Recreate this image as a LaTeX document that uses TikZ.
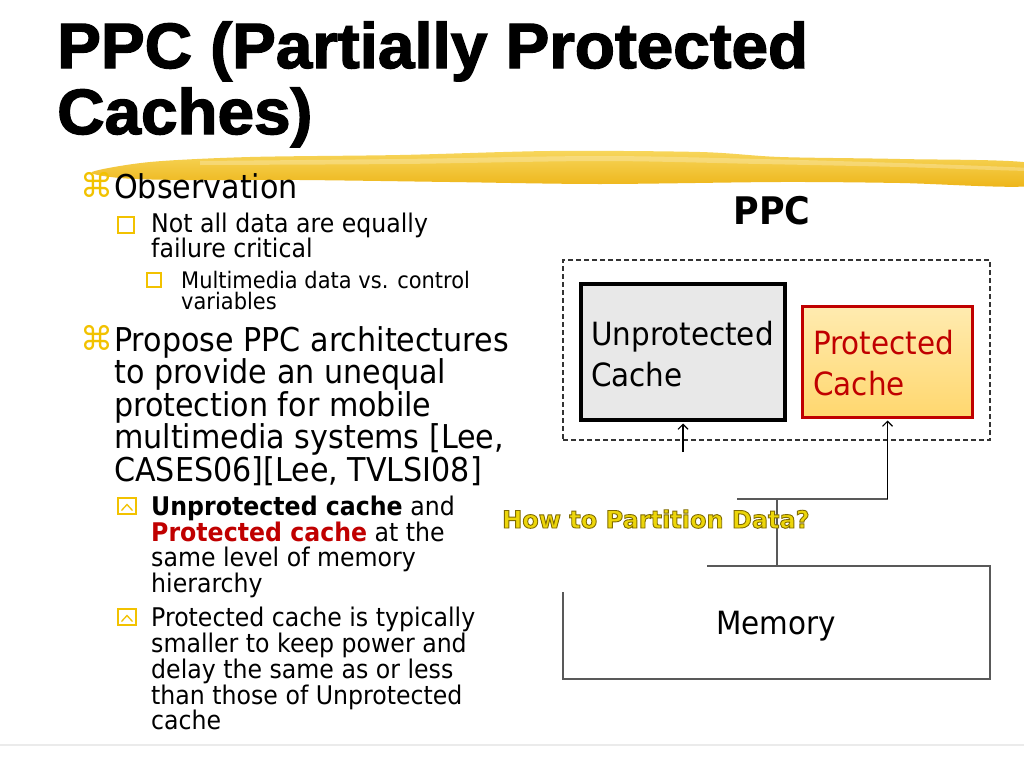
\documentclass[tikz,border=0pt]{standalone}
\usepackage{fontspec}
\setmainfont{DejaVu Sans}[FakeStretch=0.92]
\newfontfamily\titlefont{Liberation Sans}[FakeBold=2.2, FakeStretch=1.025]
\newfontfamily\symfont{DejaVu Sans}
\newfontfamily\howfont{DejaVu Sans}
\usetikzlibrary{arrows.meta}
\definecolor{bulletyellow}{HTML}{F2C200}
\definecolor{pcred}{HTML}{C00000}
\definecolor{ugray}{HTML}{E8E8E8}
\definecolor{ptop}{HTML}{FFEBB0}
\definecolor{pbot}{HTML}{FFD76E}
\definecolor{brushtop}{HTML}{F7D65C}
\definecolor{brushbot}{HTML}{EDB416}
\definecolor{glinec}{HTML}{595959}
\definecolor{howfill}{HTML}{EDD60A}
\newcommand\howoutline[1]{\special{pdf:code 0.50 0.42 0 RG 0.9 w 2 Tr}#1\special{pdf:code 0 Tr}}
\tikzset{
  titletext/.style={anchor=base west, inner sep=0pt, font=\titlefont\bfseries\fontsize{64}{64}\selectfont},
  lone/.style={anchor=base west, inner sep=0pt, font=\fontsize{32.8}{32.8}\selectfont},
  ltwo/.style={anchor=base west, inner sep=0pt, font=\fontsize{25.7}{25.7}\selectfont},
  lthree/.style={anchor=base west, inner sep=0pt, font=\fontsize{22.8}{22.8}\selectfont},
  cmd/.style={anchor=base west, inner sep=0pt, text=bulletyellow, font=\symfont\fontsize{33}{33}\selectfont},
  sqbullet/.style={draw=bulletyellow, line width=1.5pt},
  boxtext/.style={anchor=base west, inner sep=0pt, font=\fontsize{32}{32}\selectfont},
  gline/.style={draw=glinec, line width=1.5pt},
  arrowline/.style={draw=black, line width=1.1pt, -{Straight Barb[length=5pt,width=10pt]}, shorten >=1.5pt},
}
\begin{document}
\begin{tikzpicture}[x=1pt,y=-1pt]
\useasboundingbox (0,0) rectangle (1024,768);
\fill[white] (0,0) rectangle (1024,768);
% brush stroke
\shade[top color=brushtop, bottom color=brushbot]
  plot[smooth cycle, tension=0.5] coordinates {
  (92,172) (150,162) (250,157) (400,155) (550,151) (700,152) (780,157) (900,159) (1030,163)
  (1030,186) (900,183) (780,182) (600,184) (450,182) (300,180) (180,180) (120,178)};
\fill[white, opacity=0.25] plot[smooth, tension=0.5] coordinates {(200,161) (400,159) (600,156) (760,159) (900,163) (1030,168) (1030,171) (900,167) (760,164) (600,161) (400,164) (200,165)} -- cycle;
% title
\node[titletext] (t1) at (57,68) {PPC (Partially Protected};
\node[titletext] (t2) at (57,134) {Caches)};
% Observation
\node[cmd] (c1) at (80,197) {⌘};
\node[lone] (o1) at (114,198) {Observation};
\draw[sqbullet] (118,217) rectangle (134,233);
\node[ltwo] (n1) at (151,232) {Not all data are equally};
\node[ltwo] (n2) at (151,257) {failure critical};
\draw[sqbullet] (147,273) rectangle (161,287);
\node[lthree] (m1t) at (181,288) {Multimedia data vs. control};
\node[lthree] (m2t) at (181,309) {variables};
% Propose
\node[cmd] (c2) at (80,350) {⌘};
\node[lone] (p1) at (114,351) {Propose PPC architectures};
\node[lone] (p2) at (114,383.5) {to provide an unequal};
\node[lone] (p3) at (114,416) {protection for mobile};
\node[lone] (p4) at (114,448.5) {multimedia systems [Lee,};
\node[lone] (p5) at (114,481) {CASES06][Lee, TVLSI08]};
% sub bullets
\draw[sqbullet] (118,498) rectangle (136,514);
\draw[sqbullet, line width=1.3pt] (121.5,510.5) -- (127,504.5) -- (132.5,510.5);
\node[ltwo] (u1) at (151,515) {\textbf{Unprotected cache} and};
\node[ltwo] (u2) at (151,541) {\textbf{\color{pcred}Protected cache} at the};
\node[ltwo] (u3) at (151,566) {same level of memory};
\node[ltwo] (u4) at (151,592) {hierarchy};
\draw[sqbullet] (118,609) rectangle (136,625);
\draw[sqbullet, line width=1.3pt] (121.5,621.5) -- (127,615.5) -- (132.5,621.5);
\node[ltwo] (s1) at (151,626) {Protected cache is typically};
\node[ltwo] (s2) at (151,652) {smaller to keep power and};
\node[ltwo] (s3) at (151,678) {delay the same as or less};
\node[ltwo] (s4) at (151,704) {than those of Unprotected};
\node[ltwo] (s5) at (151,729) {cache};
% diagram
\node[anchor=base, inner sep=0pt, font=\bfseries\fontsize{38}{38}\selectfont] (ppc) at (772,224) {PPC};
\node[draw=black!80, line width=1.3pt, dash pattern=on 5pt off 3pt, minimum width=427pt, minimum height=180pt, inner sep=0pt] (grp) at (776.5,350) {};
\node[draw=black, fill=ugray, line width=4pt, minimum width=204pt, minimum height=136pt, inner sep=0pt] (unp) at (683,352) {};
\node[boxtext] (unt1) at (591,345) {Unprotected};
\node[boxtext] (unt2) at (591,386) {Cache};
\node[draw=pcred, line width=3pt, top color=ptop, bottom color=pbot, minimum width=170pt, minimum height=111pt, inner sep=0pt] (prot) at (887.5,362) {};
\node[boxtext, text=pcred] (prt1) at (813,354) {Protected};
\node[boxtext, text=pcred] (prt2) at (813,395) {Cache};
% memory
\coordinate (mA) at (707,566);
\coordinate (mB) at (990,566);
\coordinate (mC) at (990,679);
\coordinate (mD) at (563,679);
\coordinate (mE) at (563,592);
\coordinate (mtop) at (777,566);
\draw[gline] (mA) -- (mB) -- (mC) -- (mD) -- (mE);
\node[anchor=base, inner sep=0pt, font=\fontsize{32}{32}\selectfont] (mem) at (776,634) {Memory};
% connectors
\coordinate (ua) at (683,452);
\coordinate (hl) at (737,499);
\coordinate (hm) at (777,499);
\coordinate (hr) at (887.5,499);
\draw[arrowline] (ua) -- (unp.south);
\draw[gline] (hl) -- (hr);
\draw[gline] (mtop) -- (hm);
\draw[arrowline] (hr) -- (prot.south);
% partition label
\node[anchor=base west, inner sep=0pt, text=howfill, font=\howfont\bfseries\fontsize{24}{24}\selectfont] (how) at (502,528) {\howoutline{How to Partition Data?}};
% bottom line
\draw[draw=black!8, line width=1.5pt] (0,745) -- (1024,745);
\end{tikzpicture}
\end{document}
